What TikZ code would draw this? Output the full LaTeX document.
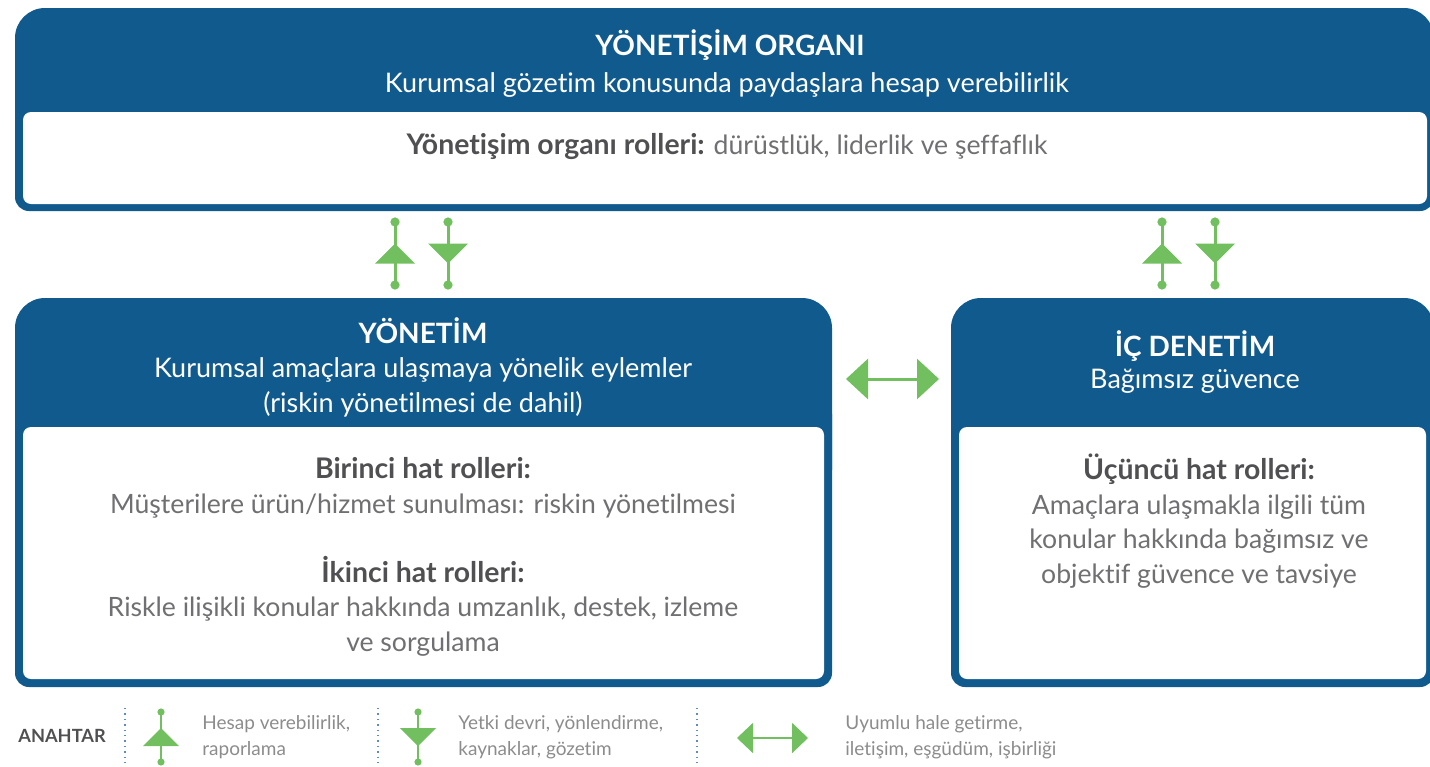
\documentclass[tikz,border=0pt]{standalone}
\usepackage{fontspec}
\setmainfont{Lato}[Ligatures=NoCommon]
\usetikzlibrary{arrows.meta,positioning,decorations.markings}

\definecolor{govblue}{RGB}{16,90,141}
\definecolor{keygreen}{RGB}{113,191,94}
\definecolor{bodygray}{RGB}{112,112,115}
\definecolor{rolegray}{RGB}{80,80,82}
\definecolor{keygray}{RGB}{140,140,140}
\definecolor{dotblue}{RGB}{95,140,190}

\newcommand\rolehead[1]{{\color{rolegray}\fontsize{14.2}{17.25}\bfseries #1}}

\begin{document}
\begin{tikzpicture}[x=0.5pt, y=-0.5pt, inner sep=0pt,
    head/.style={text=white, font=\fontsize{14}{17}\bfseries\selectfont},
    sub/.style={text=white, font=\fontsize{13.5}{17.5}\selectfont, align=center},
    body/.style={text=bodygray, font=\fontsize{13.3}{17.25}\selectfont, align=center},
    key/.style={text=keygray, font=\fontsize{9.5}{12.8}\selectfont, align=left, anchor=west},
    flow/.style={keygreen, line width=1.5pt, {Circle[length=4.5pt]}-{Circle[length=4.5pt]},
      postaction={decorate}, decoration={markings, mark=at position 0.5 with
      {\fill[keygreen] (5pt,0pt) -- (-5pt,10pt) -- (-5pt,-10pt) -- cycle;}}},
    keyflow/.style={keygreen, line width=1pt, {Circle[length=3.5pt]}-{Circle[length=3.5pt]},
      postaction={decorate}, decoration={markings, mark=at position 0.5 with
      {\fill[keygreen] (4.5pt,0pt) -- (-4.5pt,9pt) -- (-4.5pt,-9pt) -- cycle;}}},
    sync/.style={keygreen, line width=1.5pt, {Triangle[length=11pt,width=20pt]}-{Triangle[length=11pt,width=20pt]}},
    keysync/.style={keygreen, line width=1pt, {Triangle[length=8pt,width=15pt]}-{Triangle[length=8pt,width=15pt]}},
    sep/.style={dotblue, dotted, line width=0.7pt}]

    \clip (0,0) rectangle (1430,766);

    % panels
    \fill[govblue, rounded corners=15pt] (15,8) rectangle (1434,150);
    \fill[govblue, rounded corners=7pt] (15,60) rectangle (1434,211);
    \fill[white, rounded corners=4pt] (23,112) rectangle (1427,204);

    \fill[govblue, rounded corners=15pt] (15,298) rectangle (832,500);
    \fill[govblue, rounded corners=7pt] (15,400) rectangle (832,687);
    \fill[white, rounded corners=4pt] (23,427) rectangle (824,679);

    \fill[govblue, rounded corners=15pt] (951,298) rectangle (1434,500);
    \fill[govblue, rounded corners=7pt] (951,400) rectangle (1434,687);
    \fill[white, rounded corners=4pt] (959,427) rectangle (1426,679);

    % governing body
    \node[head] (govtitle) at (730,45) {YÖNETİŞİM ORGANI};
    \node[sub] (govsub) at (727,85) {Kurumsal gözetim konusunda paydaşlara hesap verebilirlik};
    \node[body] (govroles) at (727,147) {\rolehead{Yönetişim organı rolleri:} dürüstlük, liderlik ve şeffaflık};

    % management
    \node[head] (mgmttitle) at (423,331) {YÖNETİM};
    \node[sub] (mgmtsub) at (423,387) {Kurumsal amaçlara ulaşmaya yönelik eylemler\\(riskin yönetilmesi de dahil)};
    \node[body] (mgmtroles) at (423,557) {\rolehead{Birinci hat rolleri:}\\
      Müşterilere ürün/hizmet sunulması: riskin yönetilmesi\\[17.25pt]
      \rolehead{İkinci hat rolleri:}\\
      Riskle ilişikli konular hakkında umzanlık, destek, izleme\\
      ve sorgulama};

    % internal audit
    \node[head] (audittitle) at (1195,346) {İÇ DENETİM};
    \node[sub] (auditsub) at (1195,381) {Bağımsız güvence};
    \node[body] (auditroles) at (1199,521) {\rolehead{Üçüncü hat rolleri:}\\
      Amaçlara ulaşmakla ilgili tüm\\
      konular hakkında bağımsız ve\\
      objektif güvence ve tavsiye};

    % connector ends
    \coordinate (mgmtup-s) at (395,289.5);  \coordinate (mgmtup-n) at (395,217.5);
    \coordinate (mgmtdn-n) at (448,217.5);  \coordinate (mgmtdn-s) at (448,289.5);
    \coordinate (auditup-s) at (1162,289.5); \coordinate (auditup-n) at (1162,217.5);
    \coordinate (auditdn-n) at (1215,217.5); \coordinate (auditdn-s) at (1215,289.5);
    \coordinate (mgmt-e) at (846,379);       \coordinate (audit-w) at (939,379);

    % connectors
    \draw[flow] (mgmtup-s) -- (mgmtup-n);
    \draw[flow] (mgmtdn-n) -- (mgmtdn-s);
    \draw[flow] (auditup-s) -- (auditup-n);
    \draw[flow] (auditdn-n) -- (auditdn-s);
    \draw[sync] (mgmt-e) -- (audit-w);

    % key
    \node[font=\fontsize{9.1}{12}\bfseries\selectfont, text=rolegray, anchor=west] (keytitle) at (18,736) {ANAHTAR};
    \draw[sep] (125,708) -- (125,766);
    \draw[sep] (378,708) -- (378,766);
    \draw[sep] (697,708) -- (697,766);

    \coordinate (keyup-s) at (161,765.5); \coordinate (keyup-n) at (161,708.5);
    \coordinate (keydn-n) at (418,708.5); \coordinate (keydn-s) at (418,765.5);
    \coordinate (keysync-w) at (737,738); \coordinate (keysync-e) at (808,738);
    \draw[keyflow] (keyup-s) -- (keyup-n);
    \draw[keyflow] (keydn-n) -- (keydn-s);
    \draw[keysync] (keysync-w) -- (keysync-e);

    \node[key] (keyrep) at (202,737) {Hesap verebilirlik,\\raporlama};
    \node[key] (keydel) at (458,737) {Yetki devri, yönlendirme,\\kaynaklar, gözetim};
    \node[key] (keycoop) at (845,737) {Uyumlu hale getirme,\\iletişim, eşgüdüm, işbirliği};
\end{tikzpicture}
\end{document}
